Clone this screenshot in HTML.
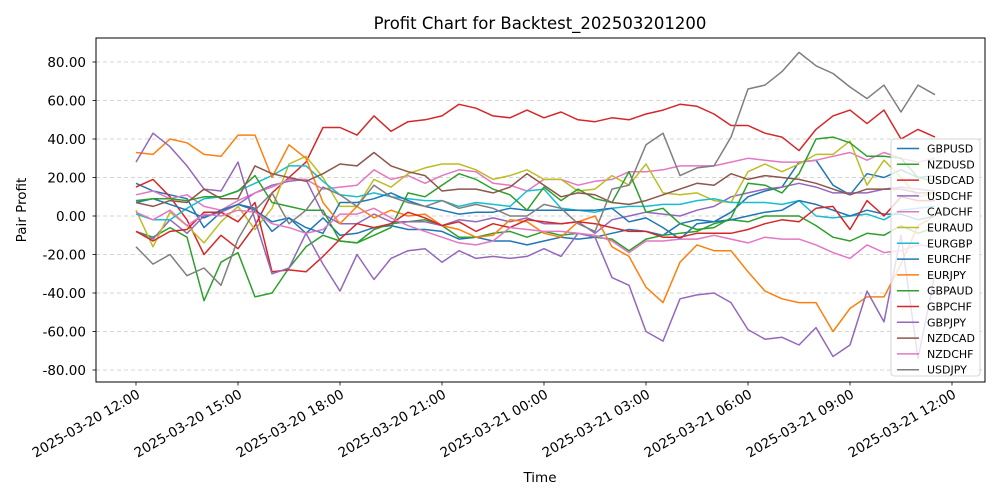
<!DOCTYPE html>
<html><head><meta charset="utf-8"><style>
html,body{margin:0;padding:0;background:#fff;}
svg{display:block;font-family:"DejaVu Sans","Liberation Sans",sans-serif;}
</style></head><body>
<svg id="chart" width="1000" height="500" viewBox="0 0 1000 500">
<rect x="0" y="0" width="1000" height="500" fill="#fff"/>
<text x="540" y="29" text-anchor="middle" font-size="16.5" fill="#000">Profit Chart for Backtest_202503201200</text>
<g id="grid"></g>
<g id="series"></g>
<rect x="96" y="38" width="889" height="344" fill="none" stroke="#000" stroke-width="1"/>
<g id="axes"></g>
<text x="540" y="482" text-anchor="middle" font-size="13.5">Time</text>
<text transform="translate(26,210) rotate(-90)" text-anchor="middle" font-size="13.5">Pair Profit</text>
<g id="legend"></g>
</svg>
<script>
const names = ["GBPUSD","NZDUSD","USDCAD","USDCHF","CADCHF","EURAUD","EURGBP","EURCHF","EURJPY","GBPAUD","GBPCHF","GBPJPY","NZDCAD","NZDCHF","USDJPY"];
const colors = ["#1f77b4","#2ca02c","#d62728","#9467bd","#e377c2","#bcbd22","#17becf","#1f77b4","#ff7f0e","#2ca02c","#d62728","#9467bd","#8c564b","#e377c2","#7f7f7f"];
const stepMinutes = 30;
const yTicks = [-80,-60,-40,-20,0,20,40,60,80];
const xTickLabels = ["2025-03-20 12:00","2025-03-20 15:00","2025-03-20 18:00","2025-03-20 21:00","2025-03-21 00:00","2025-03-21 03:00","2025-03-21 06:00","2025-03-21 09:00","2025-03-21 12:00"];
const xTickHours = [0,3,6,9,12,15,18,21,24];
const GBPUSD = [17,13,11,9,-6,2,6,4,-8,-1,-9,-1,-10,-9,-6,-5,-7,-7,-8,-12,-11,-13,-13,-15,-13,-11,-12,-11,-9,-7,-8,-10,-4,-2,-3,2,10,13,15,28,29,16,11,22,20,24,20,21];
const NZDUSD = [-8,-11,-6,-11,-44,-24,-19,-42,-40,-27,-16,-10,-13,-14,-7,-4,-3,-2,-5,-11,-11,-9,-8,-11,-8,-10,-9,-11,-12,-18,-12,-10,-9,-8,-4,-2,-3,0,0,0,-5,-11,-13,-9,-10,-5,-9,-6];
const USDCAD = [15,19,10,-2,-20,-10,-17,-5,12,20,28,46,46,42,52,44,49,50,52,58,56,52,51,55,51,54,50,49,51,50,53,55,58,57,53,47,47,43,41,34,45,52,55,48,55,40,45,41];
const USDCHF = [-8,-12,-2,-9,0,2,6,12,16,18,19,1,-4,-4,1,-3,-3,-3,-5,-2,-3,-1,-3,-1,-4,-4,-3,-9,-2,0,2,1,0,3,5,10,12,14,15,17,15,12,12,12,14,15,14,13];
const CADCHF = [11,13,9,11,5,3,8,12,15,19,19,14,15,16,24,19,21,17,21,24,23,17,16,13,19,19,16,18,19,23,23,24,26,26,26,28,30,29,28,28,29,31,33,29,33,30,28,30];
const EURAUD = [3,-16,2,-5,-14,-3,5,-7,4,27,31,20,5,5,19,15,22,25,27,27,24,19,21,24,19,19,13,14,21,16,27,12,11,12,8,7,23,27,23,27,32,32,39,16,29,20,10,12];
const EURGBP = [1,-2,-2,4,9,10,13,17,21,26,26,18,11,10,12,10,9,8,8,5,7,6,5,13,14,4,3,2,4,5,5,6,6,8,9,7,7,7,6,8,0,-1,0,1,-2,3,4,5];
const EURCHF = [7,9,6,3,-1,3,6,3,-3,-1,-6,-9,7,7,9,12,8,5,3,1,2,2,4,3,3,3,3,3,4,-3,-1,-6,-12,-4,-3,-2,0,2,3,8,6,3,0,3,1,1,-2,0];
const EURJPY = [33,32,40,38,32,31,42,42,20,37,30,7,-4,5,-1,3,0,1,-5,-7,-11,-10,-2,-3,-9,-11,-3,0,-16,-21,-37,-45,-24,-15,-18,-18,-29,-39,-43,-45,-45,-60,-48,-42,-42,-25,-5,0];
const GBPAUD = [8,9,9,8,10,10,13,21,7,5,3,3,-13,-14,-10,-6,12,10,16,22,19,14,11,3,15,8,14,9,7,23,2,4,-4,-7,-6,-1,17,16,12,22,40,41,38,31,31,30,20,18];
const GBPCHF = [-8,-13,-8,-7,2,2,-3,7,-29,-28,-29,-21,-12,-4,-6,-4,2,-1,-5,-3,-8,-4,-6,-2,-3,-4,-3,-4,-6,-8,-8,-11,-11,-9,-9,-9,-7,-4,-2,-3,4,5,-7,8,0,10,8,8];
const GBPJPY = [28,43,36,26,14,13,28,-2,-30,-27,-9,-25,-39,-20,-33,-22,-18,-17,-24,-18,-22,-21,-22,-21,-17,-21,-9,-11,-32,-36,-60,-65,-43,-41,-40,-45,-59,-64,-63,-67,-58,-73,-67,-39,-55,-10,-74,-30];
const NZDCAD = [7,5,8,7,14,9,9,26,22,20,18,22,27,26,33,26,23,21,13,14,14,12,15,22,16,10,12,11,7,6,8,11,14,17,16,22,19,21,20,19,17,14,11,14,14,14,12,12];
const NZDCHF = [2,-2,3,-5,1,0,3,2,-4,-6,-9,-7,1,1,4,-1,-5,-8,-11,-14,-15,-13,-6,-7,-8,-8,-9,-10,-13,-19,-13,-13,-12,-12,-10,-12,-14,-11,-12,-12,-15,-19,-22,-15,-19,-18,-15,-16];
const USDJPY = [-16,-25,-20,-31,-27,-36,-12,3,12,-4,3,15,11,5,16,10,7,5,8,4,6,4,0,0,6,4,-4,-8,14,16,37,43,21,25,26,41,66,68,75,85,78,74,67,61,68,54,68,63];
const seriesData = [GBPUSD,NZDUSD,USDCAD,USDCHF,CADCHF,EURAUD,EURGBP,EURCHF,EURJPY,GBPAUD,GBPCHF,GBPJPY,NZDCAD,NZDCHF,USDJPY];

const NS = "http://www.w3.org/2000/svg";
function xScale(hours){ return 136 + hours * 34; }
function yScale(v){ return 216 - v * 1.925; }
function mk(tag, attrs, parent){ const e=document.createElementNS(NS,tag); for(const k in attrs) e.setAttribute(k,attrs[k]); parent.appendChild(e); return e; }

const grid = document.getElementById('grid');
const axes = document.getElementById('axes');
yTicks.forEach(function(t){
  const y = yScale(t);
  const g = mk('line',{x1:96,x2:985,y1:y,y2:y,stroke:'#b0b0b0','stroke-width':0.8,'stroke-dasharray':'4,3',opacity:0.7},grid);
  
  
  const tk = mk('line',{x1:92.5,x2:96,y1:y,y2:y,stroke:'#000','stroke-width':0.8},axes);
  
  
  const lb = mk('text',{x:86,y:y+5,'text-anchor':'end','font-size':13.5},axes);
  lb.textContent = t.toFixed(2);
  
  
});
xTickHours.forEach(function(h,i){
  const x = xScale(h);
  const tk = mk('line',{x1:x,x2:x,y1:382,y2:385.5,stroke:'#000','stroke-width':0.8},axes);
  
  
  const lb = mk('text',{'text-anchor':'end','font-size':13.5,transform:'translate('+(x+5)+',397) rotate(-30)'},axes);
  lb.textContent = xTickLabels[i];
  
  
});

const sg = document.getElementById('series');
seriesData.forEach(function(arr,si){
  const pts = arr.map(function(v,i){ return xScale(i*stepMinutes/60).toFixed(1)+','+yScale(v).toFixed(1); }).join(' ');
  const pl = mk('polyline',{points:pts,fill:'none',stroke:colors[si],'stroke-width':1.5,'stroke-linejoin':'round'},sg);
  
  
});

const lg = document.getElementById('legend');
const box = mk('rect',{x:891,y:139,width:89,height:237,rx:3,fill:'#fff','fill-opacity':0.8,stroke:'#ccc','stroke-width':0.8},lg);


names.forEach(function(n,i){
  const y = 148.5 + i*15.8;
  const ln = mk('line',{x1:897,x2:919,y1:y,y2:y,stroke:colors[i],'stroke-width':1.5},lg);
  
  
  const tx = mk('text',{x:927,y:y+4,'font-size':11},lg);
  tx.textContent = n;
  
  
});
</script>
</body></html>
